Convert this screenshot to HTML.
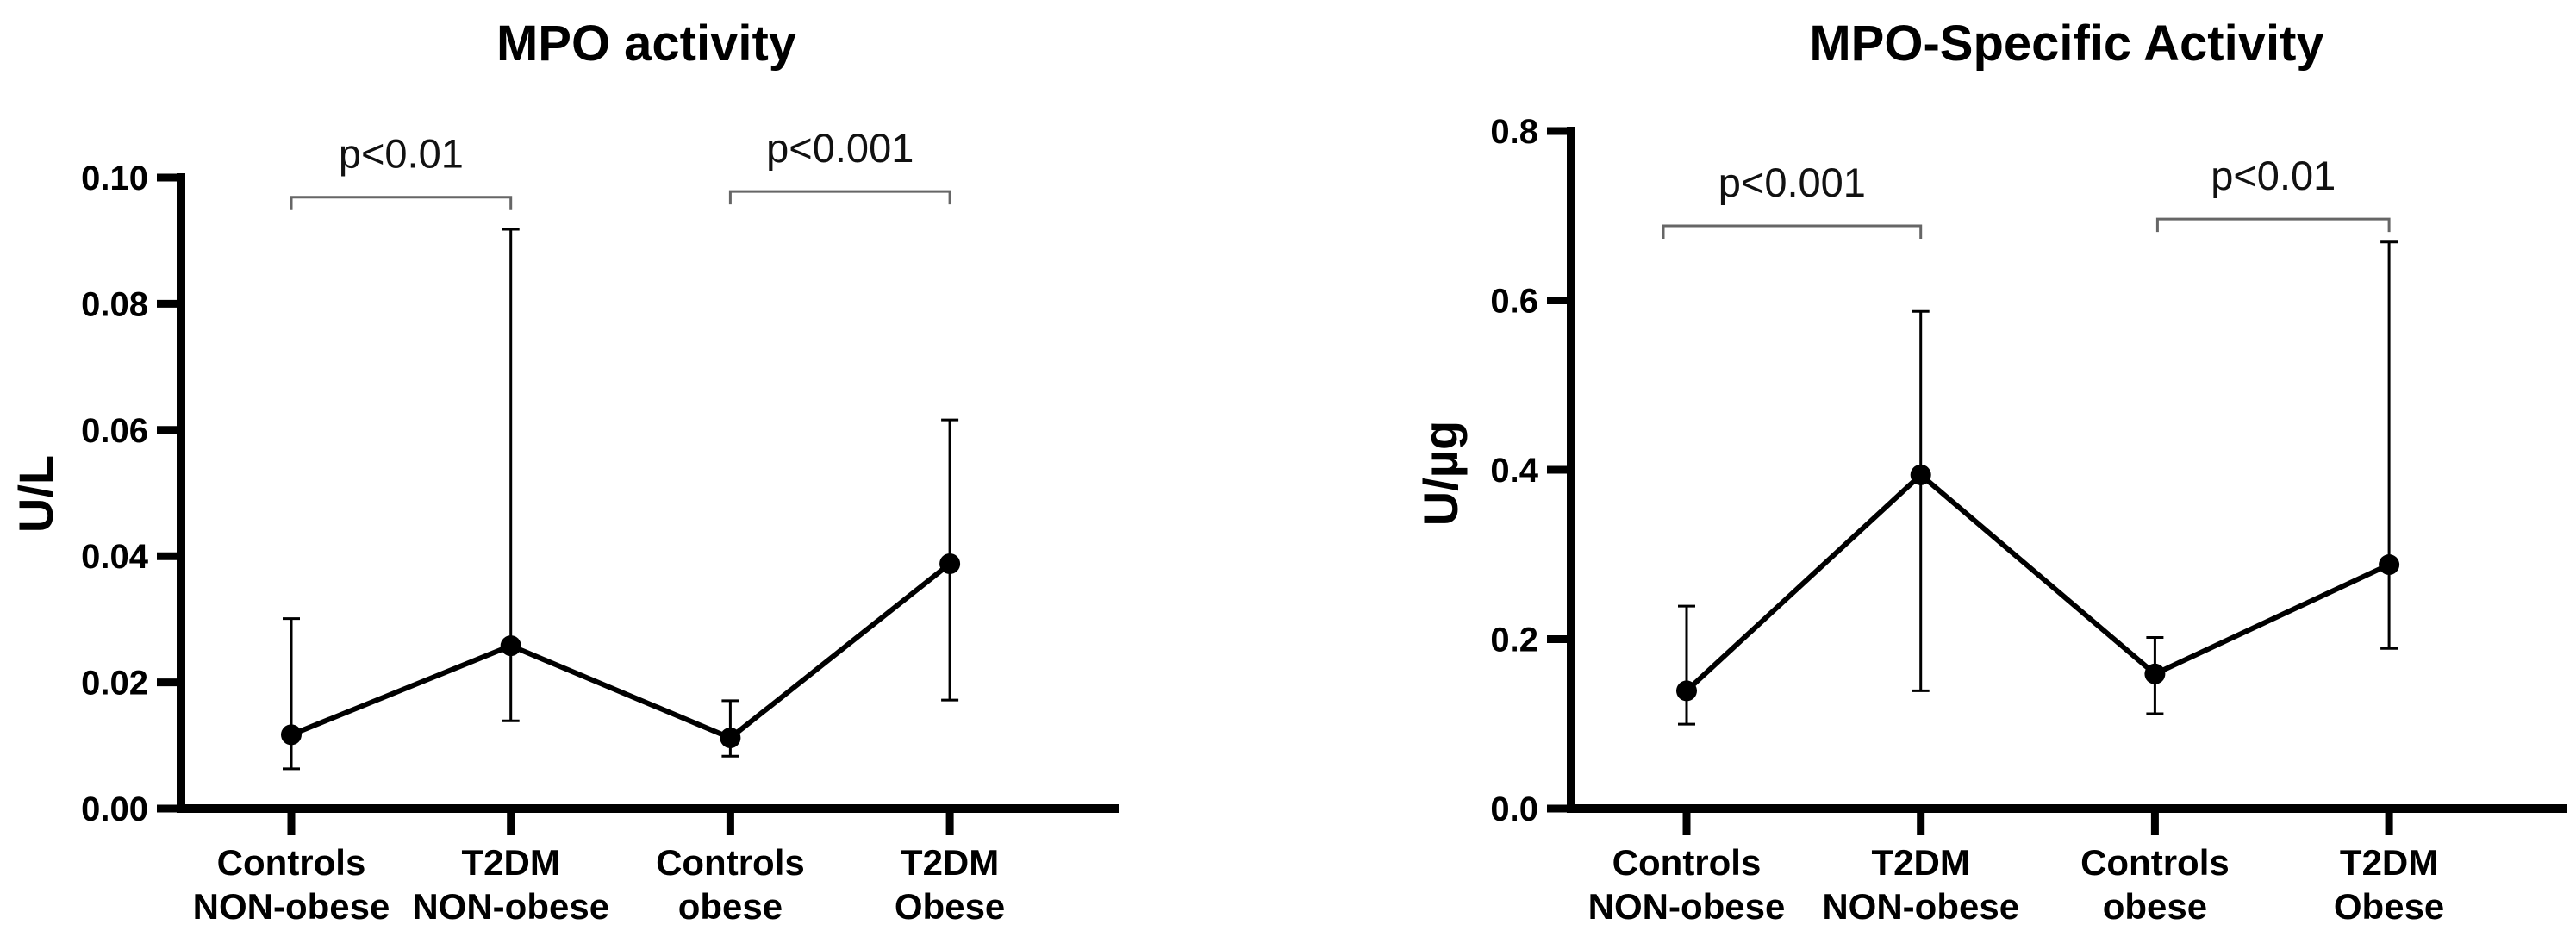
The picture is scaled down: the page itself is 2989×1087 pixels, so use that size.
<!DOCTYPE html>
<html><head><meta charset="utf-8"><style>
html,body{margin:0;padding:0;background:#fff;}
svg{display:block;font-family:"Liberation Sans",Arial,sans-serif;}
</style></head><body>
<svg id="svg" width="2989" height="1087" viewBox="0 0 2989 1087" xmlns="http://www.w3.org/2000/svg">
<g id="c1"></g>
<g id="c2"></g>
</svg>
<script>
const categories = [["Controls","NON-obese"],["T2DM","NON-obese"],["Controls","obese"],["T2DM","Obese"]];
// Chart 1: MPO activity (U/L)
const c1Means = [0.0117, 0.0258, 0.0112, 0.0388];
const c1Upper = [0.0301, 0.0918, 0.0171, 0.0616];
const c1Lower = [0.0063, 0.0139, 0.0083, 0.0172];
const c1Ticks = [0, 0.02, 0.04, 0.06, 0.08, 0.10];
const c1TickLabels = ["0.00","0.02","0.04","0.06","0.08","0.10"];
const c1Brackets = [{from:0,to:1,value:0.0969,label:"p<0.01"},{from:2,to:3,value:0.0978,label:"p<0.001"}];
// Chart 2: MPO-Specific Activity (U/ug)
const c2Means = [0.139, 0.394, 0.159, 0.288];
const c2Upper = [0.239, 0.587, 0.202, 0.669];
const c2Lower = [0.0996, 0.139, 0.112, 0.189];
const c2Ticks = [0, 0.2, 0.4, 0.6, 0.8];
const c2TickLabels = ["0.0","0.2","0.4","0.6","0.8"];
const c2Brackets = [{from:0,to:1,value:0.688,label:"p<0.001",x0off:-27},{from:2,to:3,value:0.696,label:"p<0.01",x0off:3}];

const NS="http://www.w3.org/2000/svg";
function mk(parent,tag,attrs,text){const e=document.createElementNS(NS,tag);for(const k in attrs)e.setAttribute(k,attrs[k]);if(text!==undefined)e.textContent=text;parent.appendChild(e);return e;}

function drawChart(g,cfg){
  const yS=v=>cfg.y0-(v-cfg.vmin)/(cfg.vmax-cfg.vmin)*(cfg.y0-cfg.y1);
  const xS=i=>cfg.xs0+i*cfg.xstep;
  // title
  let t=mk(g,'text',{x:cfg.titleX,y:70,'text-anchor':'middle','font-size':58,'font-weight':'bold'},cfg.title);
  
  
  // y title
  t=mk(g,'text',{x:0,y:0,transform:`translate(${cfg.ytX},${cfg.ytY}) rotate(-90)`,'text-anchor':'middle','font-size':56,'font-weight':'bold'},cfg.ytitle);
  
  
  // y axis
  let l=mk(g,'line',{x1:cfg.ax,y1:cfg.y1-5,x2:cfg.ax,y2:cfg.y0+5,stroke:'#000','stroke-width':10});
  
  
  cfg.ticks.forEach((v,i)=>{
    const y=yS(v);
    const tk=mk(g,'line',{x1:cfg.ax-28,y1:y,x2:cfg.ax,y2:y,stroke:'#000','stroke-width':9});
    
    
    const tl=mk(g,'text',{x:cfg.ax-38,y:y+14,'text-anchor':'end','font-size':40,'font-weight':'bold'},cfg.tickLabels[i]);
    
    
  });
  // x axis
  l=mk(g,'line',{x1:cfg.ax-5,y1:cfg.y0,x2:cfg.axEnd,y2:cfg.y0,stroke:'#000','stroke-width':10});
  
  
  categories.forEach((c,i)=>{
    const x=xS(i);
    const tk=mk(g,'line',{x1:x,y1:cfg.y0,x2:x,y2:cfg.y0+31,stroke:'#000','stroke-width':9});
    
    
    const tl=mk(g,'text',{x:x,y:1015,'text-anchor':'middle','font-size':42,'font-weight':'bold'});
    
    
    mk(tl,'tspan',{x:x,y:1015},c[0]);
    mk(tl,'tspan',{x:x,y:1066},c[1]);
  });
  // error bars
  cfg.means.forEach((m,i)=>{
    const x=xS(i);
    const eb=mk(g,'path',{d:`M${x},${yS(cfg.lower[i])}V${yS(cfg.upper[i])}M${x-10},${yS(cfg.upper[i])}H${x+10}M${x-10},${yS(cfg.lower[i])}H${x+10}`,stroke:'#000','stroke-width':3,fill:'none'});
    
    
  });
  // line
  const pl=mk(g,'polyline',{points:cfg.means.map((m,i)=>xS(i)+','+yS(m)).join(' '),stroke:'#000','stroke-width':6,fill:'none','stroke-linejoin':'miter'});
  
  
  cfg.means.forEach((m,i)=>{
    const c=mk(g,'circle',{cx:xS(i),cy:yS(m),r:12,fill:'#000'});
    
    
  });
  // brackets
  cfg.brackets.forEach(b=>{
    const x0=xS(b.from)+(b.x0off||0), x1=xS(b.to), y=yS(b.value);
    const p=mk(g,'path',{d:`M${x0},${y+15}V${y}H${x1}V${y+15}`,stroke:'#666','stroke-width':3,fill:'none'});
    
    
    const tx=mk(g,'text',{x:(x0+x1)/2,y:y-34,'text-anchor':'middle','font-size':47,fill:'#111'},b.label);
    
    
  });
}
drawChart(document.getElementById('c1'),{title:'MPO activity',titleX:750,ytitle:'U/L',ytX:61,ytY:573,
  ax:210,axEnd:1298,y0:938,y1:206,vmin:0,vmax:0.10,xs0:338,xstep:254.7,
  ticks:c1Ticks,tickLabels:c1TickLabels,means:c1Means,upper:c1Upper,lower:c1Lower,brackets:c1Brackets});
drawChart(document.getElementById('c2'),{title:'MPO-Specific Activity',titleX:2398,ytitle:'U/\u00b5g',ytX:1691,ytY:549,
  ax:1823,axEnd:2979,y0:938,y1:152,vmin:0,vmax:0.8,xs0:1957,xstep:271.7,
  ticks:c2Ticks,tickLabels:c2TickLabels,means:c2Means,upper:c2Upper,lower:c2Lower,brackets:c2Brackets});
</script>
</body></html>
